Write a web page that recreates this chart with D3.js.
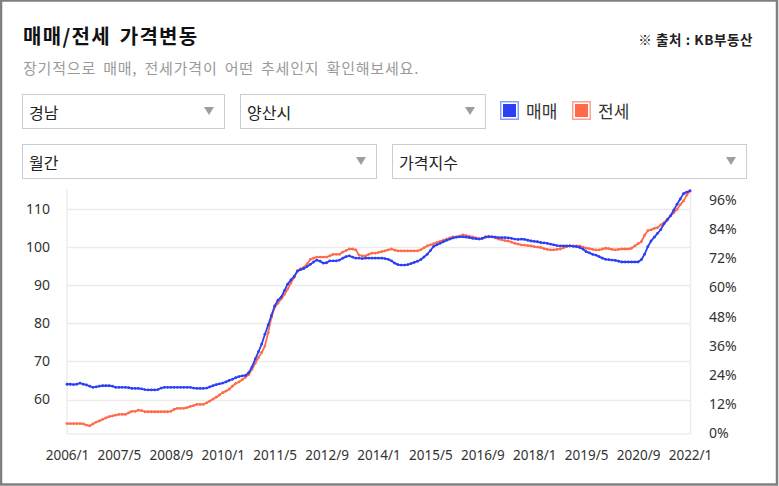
<!DOCTYPE html>
<html><head><meta charset="utf-8">
<script src="https://cdn.jsdelivr.net/npm/d3@7"></script>
<style>
html,body{margin:0;padding:0;background:#fff;}
svg{display:block;}
</style></head>
<body>
<svg id="c" width="779" height="486"></svg>
<script>
// ---- data ----
const startYear = 2006, monthCount = 193;
const xTickLabels = ["2006/1","2007/5","2008/9","2010/1","2011/5","2012/9","2014/1","2015/5","2016/9","2018/1","2019/5","2020/9","2022/1"];
const leftTicks = [60,70,80,90,100,110];
const rightTicks = [0,12,24,36,48,60,72,84,96];
const seriesNames = ["매매","전세"];
const seriesColors = ["#2b3ff5","#ff6b4a"];
const legendBorder = ["#8d9bff","#ffa08c"];
const sale = [
 64.0,64.0,63.9,64.0,64.3,64.0,63.8,63.5,63.2,63.3,63.5,63.6,
 63.6,63.6,63.5,63.2,63.2,63.2,63.2,63.1,62.9,62.9,62.9,62.8,
 62.6,62.5,62.5,62.5,62.6,63.0,63.2,63.2,63.2,63.2,63.2,63.2,
 63.2,63.2,63.2,63.0,62.9,62.9,62.9,63.0,63.3,63.6,63.9,64.1,
 64.3,64.6,65.0,65.3,65.7,66.0,66.2,66.3,67.0,68.5,70.6,72.5,
 74.5,77.1,79.5,82.0,84.5,86.0,86.8,88.5,90.2,91.3,92.2,93.6,
 94.0,94.3,94.8,95.4,96.0,96.5,96.2,95.7,95.8,96.3,96.3,96.3,
 96.5,97.0,97.4,97.6,97.3,97.0,97.0,96.9,97.0,97.0,97.0,97.0,
 97.0,97.0,96.9,96.7,96.3,95.7,95.3,95.2,95.2,95.3,95.6,95.9,
 96.2,96.6,97.3,98.0,99.0,100.1,100.5,100.9,101.3,101.7,102.0,102.3,
 102.5,102.6,102.6,102.5,102.4,102.2,102.1,102.0,102.2,102.5,102.6,102.6,
 102.5,102.4,102.4,102.4,102.3,102.2,102.0,101.9,102.0,101.9,101.7,101.5,
 101.4,101.3,101.1,101.0,100.9,100.7,100.5,100.3,100.2,100.2,100.2,100.2,
 100.1,100.0,99.8,99.4,98.7,98.4,98.0,97.8,97.4,97.0,96.7,96.6,
 96.5,96.4,96.2,96.0,96.0,96.0,96.0,96.0,96.0,96.6,98.0,100.0,
 101.5,102.5,103.5,104.5,106.0,107.0,108.1,109.6,111.1,112.5,113.9,114.3,
 114.6
];
const jeonse = [
 53.7,53.7,53.7,53.7,53.7,53.6,53.3,53.1,53.6,54.1,54.4,54.8,
 55.2,55.5,55.7,55.9,56.1,56.1,56.1,56.5,56.9,56.9,57.2,57.1,
 56.8,56.8,56.8,56.8,56.8,56.8,56.8,56.8,56.9,57.4,57.7,57.7,
 57.7,57.9,58.2,58.4,58.7,58.7,58.7,59.1,59.6,60.1,60.6,61.2,
 61.8,62.2,62.7,63.5,64.2,64.6,65.2,65.8,66.5,67.9,69.5,71.0,
 72.3,74.0,77.5,81.5,84.1,85.2,86.3,87.5,88.9,90.5,92.0,93.7,
 94.2,94.6,95.5,96.7,97.0,97.3,97.3,97.3,97.3,97.6,98.0,98.0,
 98.0,98.6,99.0,99.4,99.4,99.2,97.8,97.6,97.6,98.0,98.3,98.3,
 98.5,98.7,98.9,99.2,99.4,99.1,98.9,98.9,98.9,98.9,98.9,98.9,
 98.9,99.2,99.7,100.2,100.5,100.8,101.1,101.4,101.7,102.0,102.3,102.6,
 102.6,102.8,103.1,102.9,102.7,102.6,102.3,102.1,102.2,102.6,102.8,102.6,
 102.3,102.0,101.8,101.6,101.5,101.2,100.9,100.7,100.5,100.4,100.3,100.2,
 100.0,99.9,99.8,99.5,99.3,99.2,99.2,99.3,99.4,99.7,100.0,100.2,
 100.2,100.2,100.2,99.9,99.6,99.5,99.3,99.2,99.2,99.4,99.6,99.5,
 99.3,99.2,99.3,99.4,99.4,99.4,99.6,100.2,100.8,101.3,103.0,104.2,
 104.4,104.8,105.0,105.7,106.3,107.2,108.1,108.9,109.8,111.0,112.0,113.5,
 114.6
];
const dropdowns = [
 {label:"경남", x:22, y:94, w:202},
 {label:"양산시", x:240, y:94, w:245},
 {label:"월간", x:22, y:144, w:354},
 {label:"가격지수", x:392, y:144, w:354}
];

// ---- build ----
const months = d3.range(monthCount).map(i => `${startYear + Math.floor(i/12)}/${i%12+1}`);
const svg = d3.select("#c");
const KR = "'Noto Sans CJK KR','Noto Sans',sans-serif";
const NUM = "'Noto Sans','Noto Sans CJK KR',sans-serif";

// frame
svg.append("rect").attr("x",1).attr("y",0.5).attr("width",776).attr("height",484)
  .attr("fill","#fff").attr("stroke","#7f7f7f").attr("stroke-width",2.5);

// title
svg.append("text").attr("x",23).attr("y",44).text("매매/전세 가격변동")
  .attr("font-family",KR).attr("font-size",20).attr("font-weight","bold")
  .attr("letter-spacing",1.3).attr("word-spacing",3).attr("fill","#111");
svg.append("text").attr("x",23).attr("y",74).text("장기적으로 매매, 전세가격이 어떤 추세인지 확인해보세요.")
  .attr("font-family",KR).attr("font-size",15).attr("letter-spacing",0.8).attr("word-spacing",3).attr("fill","#9a9a9a");
svg.append("text").attr("x",753).attr("y",45).attr("text-anchor","end").text("※ 출처 : KB부동산")
  .attr("font-family",KR).attr("font-size",13.5).attr("font-weight","bold").attr("letter-spacing",0.6).attr("fill","#222");

// dropdowns
const dd = svg.append("g").selectAll("g").data(dropdowns).join("g")
  .attr("transform", d => `translate(${d.x},${d.y})`);
dd.append("rect").attr("x",0.5).attr("y",0.5).attr("width",d=>d.w).attr("height",34)
  .attr("fill","#fff").attr("stroke","#c8ccd3");
dd.append("text").attr("x",7).attr("y",25).text(d=>d.label)
  .attr("font-family",KR).attr("font-size",16).attr("fill","#222");
dd.append("path").attr("d", d => `M${d.w-20},13 L${d.w-10},13 L${d.w-15},21 Z`).attr("fill","#9e9e9e");

// legend
const legendX = [500, 572];
const lg = svg.append("g").selectAll("g").data(seriesNames).join("g")
  .attr("transform",(d,i)=>`translate(${legendX[i]},101)`);
lg.append("rect").attr("x",0.75).attr("y",0.75).attr("width",17.5).attr("height",17.5)
  .attr("fill","#fff").attr("stroke",(d,i)=>legendBorder[i]).attr("stroke-width",1.5);
lg.append("rect").attr("x",3).attr("y",3).attr("width",13).attr("height",13)
  .attr("fill",(d,i)=>seriesColors[i]);
lg.append("text").attr("x",26).attr("y",17).text(d=>d)
  .attr("font-family",KR).attr("font-size",17).attr("fill","#333");

// scales
const x = d3.scalePoint().domain(months).range([67, 690]);
const yL = d3.scaleLinear().domain([51.1, 114.85]).range([433.5, 190]);
const yR = d3.scaleLinear().domain([0, 100]).range([433.5, 190]);

// grid
svg.append("g").selectAll("line").data(leftTicks).join("line")
  .attr("x1",67).attr("x2",690).attr("y1",d=>Math.round(yL(d))+0.5).attr("y2",d=>Math.round(yL(d))+0.5)
  .attr("stroke","#ebebeb").attr("stroke-width",1.5);
svg.append("line").attr("x1",67).attr("x2",690).attr("y1",434).attr("y2",434).attr("stroke","#ececec").attr("stroke-width",1.5);
svg.append("line").attr("x1",67).attr("x2",67).attr("y1",189).attr("y2",434).attr("stroke","#ececec").attr("stroke-width",1.5);
svg.append("line").attr("x1",690.5).attr("x2",690.5).attr("y1",189).attr("y2",434).attr("stroke","#ececec").attr("stroke-width",1.5);

// axes
const axL = svg.append("g").attr("transform","translate(67,0)")
  .call(d3.axisLeft(yL).tickValues(leftTicks).tickSize(0).tickPadding(17));
const axR = svg.append("g").attr("transform","translate(690,0)")
  .call(d3.axisRight(yR).tickValues(rightTicks).tickSize(0).tickPadding(19).tickFormat(d=>d+"%"));
const axB = svg.append("g").attr("transform","translate(0,433.5)")
  .call(d3.axisBottom(x).tickValues(xTickLabels).tickSize(0).tickPadding(17));
[axL,axR,axB].forEach(a=>{
  a.select(".domain").remove();
  a.selectAll("text").attr("font-family",NUM).attr("fill","#333");
});
axL.selectAll("text").attr("font-size",14);
axR.selectAll("text").attr("font-size",14);
axB.selectAll("text").attr("font-size",13.5);

// series
const series = [sale, jeonse];
const line = d3.line().x((d,i)=>x(months[i])).y(d=>yL(d));
[1,0].forEach(k=>{
  const g = svg.append("g");
  g.append("path").datum(series[k]).attr("d",line).attr("fill","none")
    .attr("stroke",seriesColors[k]).attr("stroke-width",1.8).attr("stroke-linejoin","round");
  g.selectAll("circle").data(series[k]).join("circle")
    .attr("cx",(d,i)=>x(months[i])).attr("cy",d=>yL(d)).attr("r",1.4)
    .attr("fill",seriesColors[k]);
});
</script>
</body></html>
